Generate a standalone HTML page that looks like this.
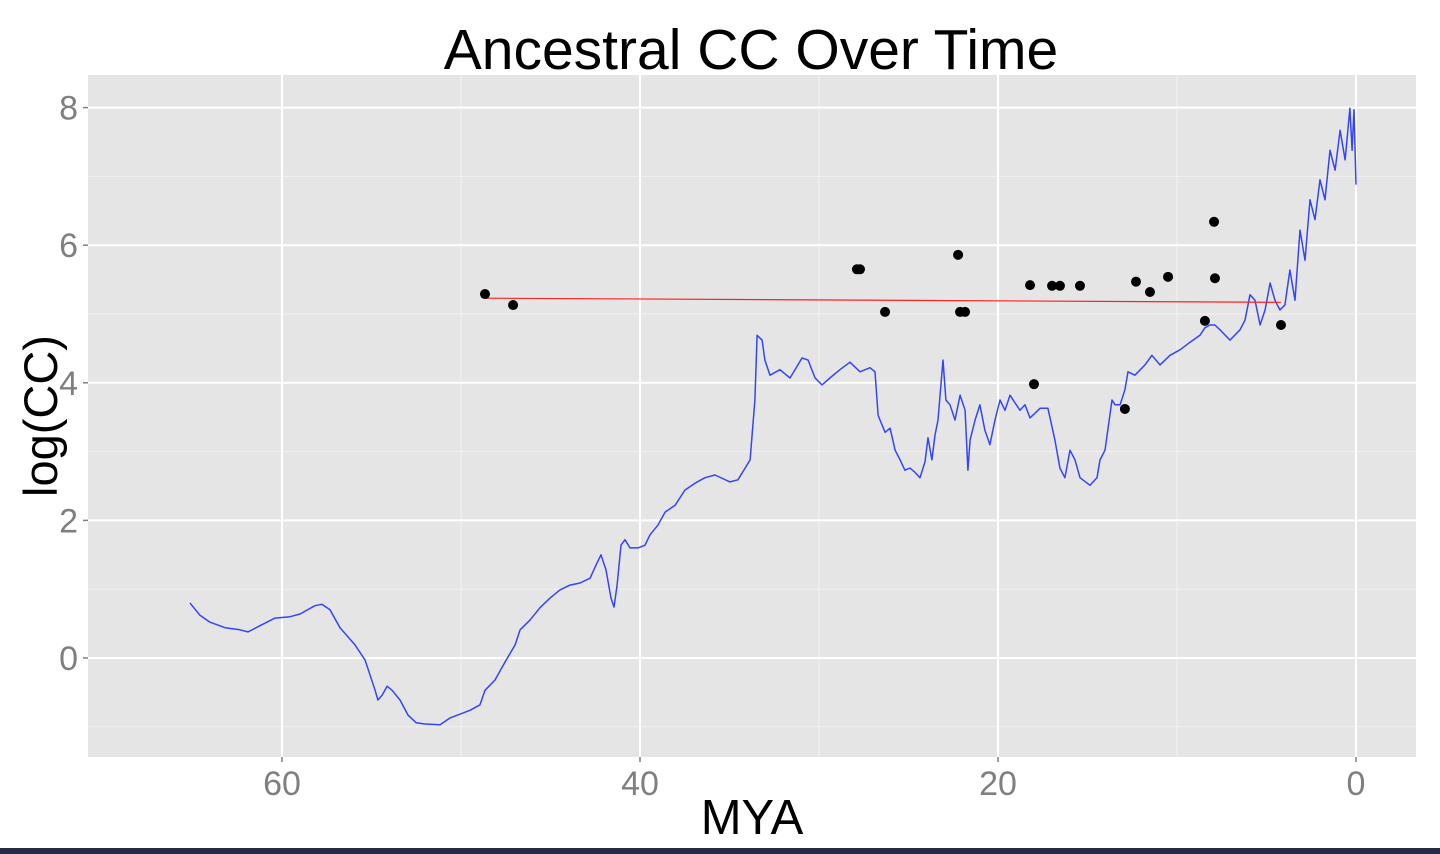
<!DOCTYPE html>
<html><head><meta charset="utf-8"><style>
html,body{margin:0;padding:0;background:#fff;width:1440px;height:854px;overflow:hidden}
svg{display:block}
text{font-family:"Liberation Sans",Arial,sans-serif}
</style></head><body>
<svg id="chart" width="1440" height="854">
<rect x="0" y="848" width="1440" height="6" fill="#262a44"/>
<rect x="88" y="75" width="1328" height="682" fill="#e5e5e5"/>
<g id="grid"></g>
<g id="series"></g>
<g id="axes"></g>
<text x="751" y="69" font-size="57" text-anchor="middle" fill="#000">Ancestral CC Over Time</text>
<text x="752" y="834" font-size="49" text-anchor="middle" fill="#000">MYA</text>
<text transform="translate(57,416) rotate(-90)" font-size="47" text-anchor="middle" fill="#000">log(CC)</text>
</svg>
<script>
const lineMya=[65.14,64.58,64.02,63.18,62.35,61.9,61.23,60.39,59.55,58.99,58.16,57.77,57.32,56.76,55.92,55.36,54.8,54.64,54.41,54.13,53.85,53.41,52.96,52.51,52.01,51.17,50.61,49.5,48.94,48.66,48.1,47.54,46.98,46.7,46.15,45.59,45.03,44.47,43.91,43.35,42.79,42.46,42.18,41.9,41.62,41.45,41.28,41.06,40.84,40.56,40.11,39.72,39.44,39.0,38.6,38.04,37.49,36.93,36.37,35.81,34.97,34.53,34.13,33.85,33.58,33.46,33.18,33.02,32.74,32.18,31.62,31.34,30.95,30.61,30.22,29.83,29.39,28.83,28.27,27.71,27.15,26.87,26.7,26.59,26.31,26.03,25.75,25.47,25.2,24.92,24.64,24.36,24.08,23.91,23.69,23.52,23.35,23.07,22.91,22.68,22.4,22.12,21.84,21.68,21.56,21.28,21.01,20.73,20.45,20.17,19.89,19.61,19.33,19.05,18.77,18.49,18.21,17.65,17.21,16.82,16.54,16.26,15.98,15.7,15.42,14.86,14.47,14.3,14.02,13.63,13.46,13.18,12.91,12.74,12.35,11.79,11.4,10.95,10.39,9.83,9.27,8.72,8.44,8.16,7.88,7.6,7.04,6.48,6.2,5.92,5.64,5.36,5.08,4.8,4.53,4.25,3.97,3.69,3.41,3.13,2.85,2.57,2.29,2.01,1.73,1.45,1.17,0.89,0.61,0.34,0.22,0.11,0.0];
const lineVal=[0.8,0.62,0.52,0.44,0.41,0.38,0.47,0.58,0.6,0.64,0.76,0.78,0.7,0.44,0.19,-0.03,-0.47,-0.61,-0.54,-0.41,-0.47,-0.61,-0.83,-0.94,-0.96,-0.97,-0.87,-0.76,-0.68,-0.47,-0.32,-0.06,0.19,0.41,0.55,0.73,0.87,0.99,1.06,1.09,1.16,1.35,1.5,1.28,0.87,0.74,1.06,1.64,1.72,1.6,1.6,1.64,1.79,1.93,2.12,2.22,2.44,2.54,2.62,2.66,2.56,2.59,2.76,2.88,3.75,4.69,4.62,4.33,4.11,4.19,4.07,4.19,4.36,4.33,4.07,3.97,4.07,4.19,4.3,4.16,4.22,4.16,3.53,3.46,3.28,3.34,3.02,2.88,2.73,2.76,2.7,2.62,2.85,3.2,2.88,3.24,3.46,4.33,3.75,3.68,3.46,3.82,3.6,2.73,3.17,3.46,3.68,3.31,3.1,3.46,3.75,3.6,3.82,3.71,3.6,3.68,3.49,3.63,3.63,3.17,2.76,2.62,3.02,2.88,2.62,2.51,2.62,2.88,3.02,3.75,3.68,3.68,3.9,4.16,4.11,4.26,4.4,4.26,4.4,4.48,4.59,4.69,4.8,4.84,4.84,4.77,4.62,4.77,4.91,5.28,5.2,4.84,5.06,5.45,5.2,5.06,5.13,5.64,5.2,6.22,5.78,6.66,6.37,6.95,6.66,7.38,7.09,7.67,7.24,7.99,7.38,7.97,6.88];
const pointMya=[48.66,47.09,27.88,27.71,26.31,22.23,22.12,21.84,18.21,17.99,16.98,16.54,15.42,12.91,12.29,11.51,10.5,8.44,7.93,7.88,4.19];
const pointVal=[5.29,5.13,5.65,5.65,5.03,5.86,5.03,5.03,5.42,3.98,5.41,5.41,5.41,3.62,5.47,5.32,5.54,4.9,6.34,5.52,4.84];
const fitMya=[48.66,4.19];
const fitVal=[5.23,5.17];
const xTicks=[60,40,20,0];
const xMinor=[50,30,10];
const yTicks=[0,2,4,6,8];
const yMinor=[-1,1,3,5,7];

const NS="http://www.w3.org/2000/svg";
const X=m=>1356-17.9*m;
const Y=v=>658-68.8*v;
function mk(tag,attrs,parent){const e=document.createElementNS(NS,tag);for(const k in attrs)e.setAttribute(k,attrs[k]);parent.appendChild(e);return e;}
const grid=document.getElementById('grid'),series=document.getElementById('series'),axes=document.getElementById('axes');
xMinor.forEach(t=>{const l=mk('line',{x1:X(t),x2:X(t),y1:75,y2:757,stroke:'#f2f2f2','stroke-width':1},grid);

});
yMinor.forEach(t=>{const l=mk('line',{x1:88,x2:1416,y1:Y(t),y2:Y(t),stroke:'#f2f2f2','stroke-width':1},grid);

});
xTicks.forEach(t=>{const l=mk('line',{x1:X(t),x2:X(t),y1:75,y2:757,stroke:'#fff','stroke-width':2},grid);


const tk=mk('line',{x1:X(t),x2:X(t),y1:757,y2:762,stroke:'#7f7f7f','stroke-width':1.5},axes);


const tx=mk('text',{x:X(t),y:795,'font-size':34,'text-anchor':'middle',fill:'#7f7f7f'},axes);tx.textContent=t;

});
yTicks.forEach(t=>{const l=mk('line',{x1:88,x2:1416,y1:Y(t),y2:Y(t),stroke:'#fff','stroke-width':2},grid);


const tk=mk('line',{x1:83,x2:88,y1:Y(t),y2:Y(t),stroke:'#7f7f7f','stroke-width':1.5},axes);


const tx=mk('text',{x:78,y:Y(t)+12,'font-size':34,'text-anchor':'end',fill:'#7f7f7f'},axes);tx.textContent=t;

});
const d=lineMya.map((m,i)=>(i?'L':'M')+X(m).toFixed(1)+','+Y(lineVal[i]).toFixed(1)).join('');
const path=mk('path',{d:d,fill:'none',stroke:'#3344ff','stroke-width':1.5,'stroke-linejoin':'round'},series);


const fit=mk('line',{x1:X(fitMya[0]),y1:Y(fitVal[0]),x2:X(fitMya[1]),y2:Y(fitVal[1]),stroke:'#ff2020','stroke-width':1.2},series);


pointMya.forEach((m,i)=>{const c=mk('circle',{cx:X(m),cy:Y(pointVal[i]),r:5,fill:'#000'},series);

});
</script>
</body></html>
